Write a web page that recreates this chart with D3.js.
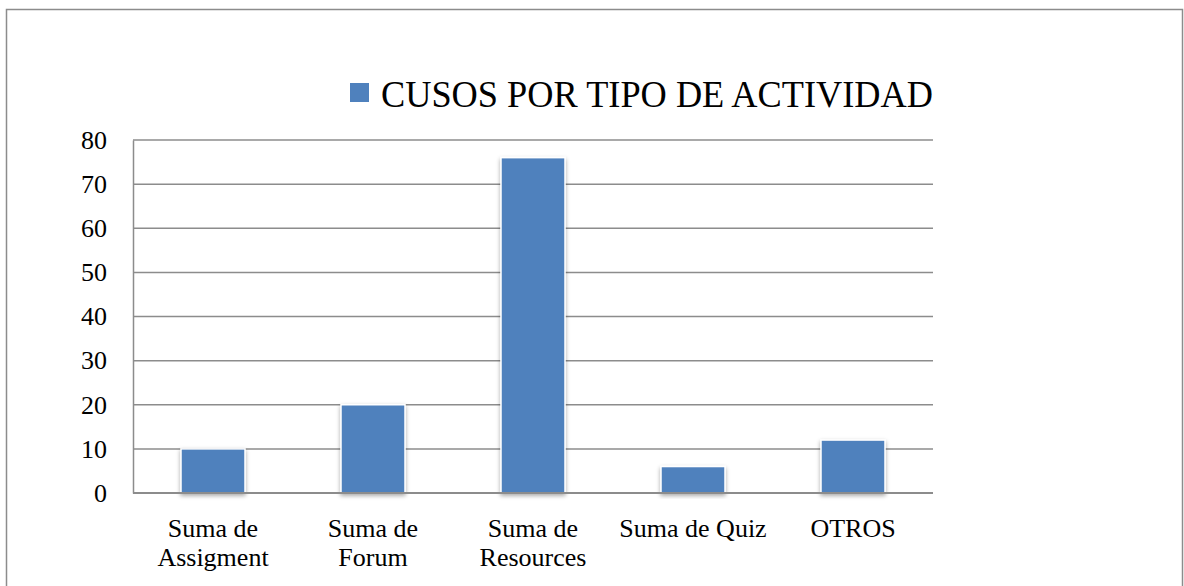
<!DOCTYPE html>
<html>
<head>
<meta charset="utf-8">
<script src="https://cdn.jsdelivr.net/npm/d3@7"></script>
<style>
  html, body { margin: 0; padding: 0; background: #fff; }
  svg { display: block; }
  text { font-family: "Liberation Serif", "Times New Roman", serif; fill: #000; }
</style>
</head>
<body>
<svg id="chart" width="1184" height="586"></svg>
<script>
const categories = [["Suma de", "Assigment"], ["Suma de", "Forum"], ["Suma de", "Resources"], ["Suma de Quiz"], ["OTROS"]];
const values = [10, 20, 76, 6, 12];
const yTicks = [0, 10, 20, 30, 40, 50, 60, 70, 80];
const seriesName = "CUSOS POR TIPO DE ACTIVIDAD";

const svg = d3.select("#chart");
const m = { left: 133, right: 933, top: 140, bottom: 493 };

const defs = svg.append("defs");
const f = defs.append("filter").attr("id", "shadow").attr("x", "-20%").attr("y", "-20%").attr("width", "140%").attr("height", "140%");
f.append("feDropShadow").attr("dx", 0).attr("dy", 2).attr("stdDeviation", 2).attr("flood-color", "#000").attr("flood-opacity", 0.35);

// outer border
svg.append("rect").attr("x", 6.5).attr("y", 9.5).attr("width", 1176).attr("height", 600)
  .attr("fill", "#fff").attr("stroke", "#8c8c8c").attr("stroke-width", 1.5);

const x = d3.scaleBand().domain(d3.range(categories.length)).range([m.left, m.right]).paddingInner(0.6).paddingOuter(0.3);
const y = d3.scaleLinear().domain([0, 80]).range([m.bottom, m.top]);

// gridlines
svg.append("g").selectAll("line").data(yTicks.filter(d => d > 0)).join("line")
  .attr("x1", m.left).attr("x2", m.right)
  .attr("y1", d => y(d)).attr("y2", d => y(d))
  .attr("stroke", "#8c8c8c").attr("stroke-width", 1.5);

// y axis
const yAxis = svg.append("g").attr("transform", `translate(${m.left},0)`)
  .call(d3.axisLeft(y).tickValues(yTicks).tickSize(0).tickPadding(26));
yAxis.select(".domain").attr("stroke", "#8c8c8c").attr("stroke-width", 1.5);
yAxis.selectAll("text").style("font-size", "26px").attr("font-family", "Liberation Serif");

// bars
svg.append("g").selectAll("rect").data(values).join("rect")
  .attr("x", (d, i) => x(i)).attr("width", x.bandwidth())
  .attr("y", d => y(d)).attr("height", d => y(0) - y(d))
  .attr("fill", "#4f81bd").attr("stroke", "#fff").attr("stroke-width", 1.5)
  .attr("filter", "url(#shadow)");

// x axis line
svg.append("line").attr("x1", m.left).attr("x2", m.right).attr("y1", y(0)).attr("y2", y(0))
  .attr("stroke", "#8c8c8c").attr("stroke-width", 2);

// category labels
const xl = svg.append("g").selectAll("text").data(categories).join("text")
  .attr("text-anchor", "middle").style("font-size", "26px")
  .attr("x", (d, i) => x(i) + x.bandwidth() / 2).attr("y", 537);
xl.selectAll("tspan").data(d => d).join("tspan")
  .attr("x", function () { return d3.select(this.parentNode).attr("x"); })
  .attr("dy", (d, i) => i === 0 ? 0 : 29)
  .text(d => d);

// legend
svg.append("rect").attr("x", 350).attr("y", 83).attr("width", 19).attr("height", 19).attr("fill", "#4f81bd");
svg.append("text").attr("x", 381).attr("y", 107).style("font-size", "38px")
  .attr("textLength", 552).attr("lengthAdjust", "spacingAndGlyphs").text(seriesName);
</script>
</body>
</html>
